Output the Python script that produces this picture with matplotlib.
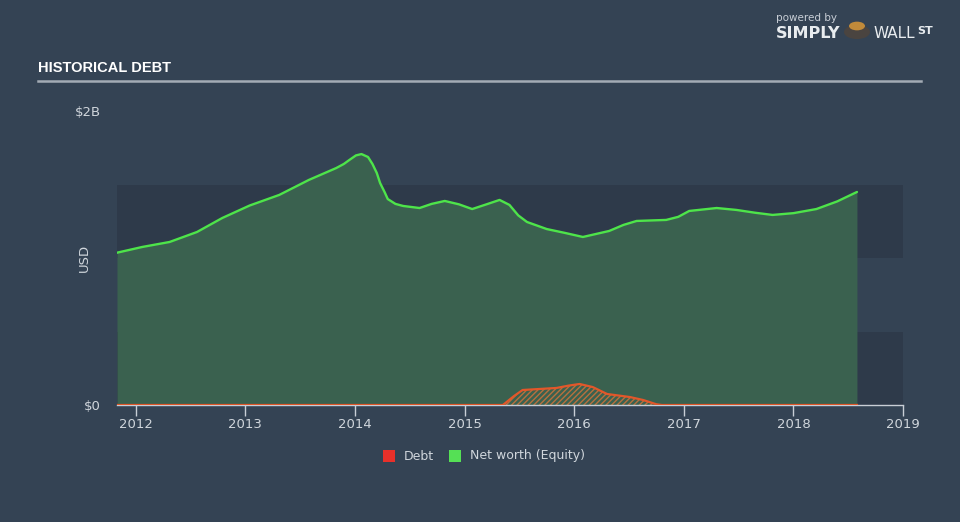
import numpy as np
import matplotlib.pyplot as plt
from matplotlib.patches import Rectangle, Circle

# net worth (equity), USD billions
eq_years = [2011.83, 2012.06, 2012.31, 2012.56, 2012.79, 2013.04, 2013.31, 2013.58,
            2013.83, 2013.90, 2013.95, 2014.01, 2014.06, 2014.12, 2014.16, 2014.20,
            2014.23, 2014.27, 2014.30, 2014.37, 2014.44, 2014.59, 2014.70, 2014.82,
            2014.95, 2015.07, 2015.20, 2015.32, 2015.41, 2015.49, 2015.57, 2015.75,
            2015.92, 2016.08, 2016.32, 2016.45, 2016.57, 2016.84, 2016.95, 2017.05,
            2017.30, 2017.48, 2017.65, 2017.81, 2018.00, 2018.21, 2018.40, 2018.58]
eq_vals = [1.036, 1.075, 1.109, 1.177, 1.272, 1.357, 1.429, 1.531,
           1.612, 1.640, 1.667, 1.698, 1.707, 1.687, 1.640, 1.578,
           1.510, 1.450, 1.401, 1.368, 1.354, 1.340, 1.368, 1.388,
           1.365, 1.333, 1.365, 1.395, 1.361, 1.290, 1.245, 1.197,
           1.170, 1.143, 1.184, 1.225, 1.252, 1.259, 1.280, 1.320,
           1.340, 1.327, 1.308, 1.293, 1.305, 1.333, 1.385, 1.449]

# debt, USD billions
debt_years = [2011.83, 2015.35, 2015.45, 2015.53, 2015.84, 2015.95, 2016.05, 2016.17,
              2016.30, 2016.51, 2016.63, 2016.75, 2016.80, 2018.58]
debt_vals = [0.0, 0.0, 0.06, 0.102, 0.116, 0.132, 0.143, 0.122,
             0.075, 0.054, 0.034, 0.005, 0.0, 0.0]

year_ticks = [2012, 2013, 2014, 2015, 2016, 2017, 2018, 2019]

BG = '#344354'
BAND = '#2e3a4a'
FILL = '#3a614f'
LINE = '#4ee44a'
DEBT = '#e2572a'
TXT = '#d0d6dc'

fig = plt.figure(figsize=(9.6, 5.22), dpi=100, facecolor=BG)
ax = fig.add_axes([117/960, 117/522, 786/960, 294/522])
ax.set_facecolor('none')

ax.set_xlim(2011.83, 2019.0)
ax.set_ylim(0, 2.0)

# background bands
ax.axhspan(0, 0.5, color=BAND, lw=0, zorder=0)
ax.axhspan(1.0, 1.5, color=BAND, lw=0, zorder=0)

ax.fill_between(eq_years, 0, eq_vals, color=FILL, lw=0, zorder=1)
ax.plot(eq_years, eq_vals, color=LINE, lw=1.7, zorder=3,
        solid_joinstyle='round', solid_capstyle='round')

ax.fill_between(debt_years, 0, debt_vals, facecolor='none', edgecolor='#b8703e',
                hatch='//////', lw=0, zorder=2)
ax.plot(debt_years, debt_vals, color=DEBT, lw=1.6, zorder=4, solid_joinstyle='round')

for s in ['top', 'right', 'left']:
    ax.spines[s].set_visible(False)
ax.spines['bottom'].set_color('#c8ced6')
ax.spines['bottom'].set_linewidth(1)

ax.set_xticks(year_ticks)
ax.set_xticklabels([str(y) for y in year_ticks])
ax.tick_params(axis='x', colors='#c8ced6', length=8, width=1, labelcolor=TXT,
               labelsize=9.5, pad=1)

ax.set_yticks([0, 2.0])
ax.set_yticklabels(['$0', '$2B'])
ax.tick_params(axis='y', length=0, labelcolor=TXT, labelsize=9.5, pad=11.5)
ax.set_ylabel('USD', color=TXT, fontsize=9.5)
ax.yaxis.set_label_coords(-(117 - 91) / 786, 0.5)

# title and rule
fig.text(38/960, 1 - 68/522, 'HISTORICAL DEBT', color='white', fontsize=10.5,
         fontweight='bold', family=['Liberation Sans Narrow', 'Liberation Sans', 'DejaVu Sans'],
         va='center', ha='left')
fig.add_artist(plt.Line2D([38/960, 921/960], [1 - 81/522, 1 - 81/522],
                          color='#a3abb5', lw=1.8, transform=fig.transFigure))

# legend
def legend_item(x, color, label):
    fig.add_artist(Rectangle((x/960, 1 - 462/522), 12/960, 12/522,
                             facecolor=color, edgecolor='none', transform=fig.transFigure))
    fig.text((x + 21)/960, 1 - 456/522, label, color=TXT, fontsize=9,
             va='center', ha='left')

legend_item(383, '#e8302a', 'Debt')
legend_item(449, '#55e055', 'Net worth (Equity)')

# logo
fig.text(776/960, 1 - 18/522, 'powered by', color='#c8ced6', fontsize=7.5,
         va='center', ha='left')
fig.text(776/960, 1 - 33/522, 'SIMPLY', color='#e8ecef', fontsize=11.5,
         fontweight='bold', va='center', ha='left')
fig.add_artist(Circle((857/960, 1 - 32/522), 13/960, facecolor='#4a4440',
                      edgecolor='none', transform=fig.transFigure))
fig.add_artist(Circle((857/960, 1 - 26/522), 8/960, facecolor='#c08a3a',
                      edgecolor='none', transform=fig.transFigure))
fig.text(873/960, 1 - 33/522, 'WALL', color='#e8ecef', fontsize=11,
         va='center', ha='left')
fig.text(917/960, 1 - 31/522, 'ST', color='#e8ecef', fontsize=8,
         fontweight='bold', va='center', ha='left')

fig.savefig('out.png', dpi=100, facecolor=BG)
